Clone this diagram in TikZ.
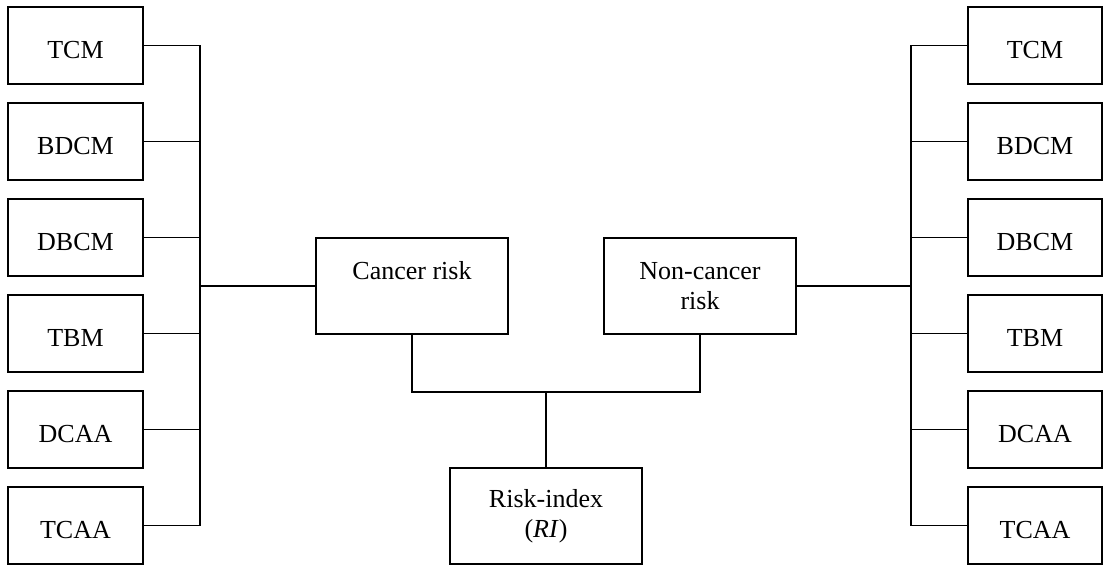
\documentclass[tikz,border=0pt]{standalone}
\usepackage{fontspec}
\setmainfont{Liberation Serif}
\begin{document}
\begin{tikzpicture}[x=1pt,y=-1pt,
  box/.style={draw, line width=1.2pt, minimum width=135pt, minimum height=77pt, inner sep=0pt, align=center, font=\fontsize{26}{30}\selectfont},
  smallbox/.style={box, text height=26pt, text depth=0pt},
  bigbox/.style={box, minimum width=192pt, minimum height=96pt},
  conn/.style={line width=1.2pt, line join=miter}]
\useasboundingbox (0,0) rectangle (1103,571);
% left column
\node[smallbox] (L1) at (75.5,45.5) {TCM};
\node[smallbox] (L2) at (75.5,141.5) {BDCM};
\node[smallbox] (L3) at (75.5,237.5) {DBCM};
\node[smallbox] (L4) at (75.5,333.5) {TBM};
\node[smallbox] (L5) at (75.5,429.5) {DCAA};
\node[smallbox] (L6) at (75.5,525.5) {TCAA};
% right column
\node[smallbox, minimum width=134pt] (R1) at (1035,45.5) {TCM};
\node[smallbox, minimum width=134pt] (R2) at (1035,141.5) {BDCM};
\node[smallbox, minimum width=134pt] (R3) at (1035,237.5) {DBCM};
\node[smallbox, minimum width=134pt] (R4) at (1035,333.5) {TBM};
\node[smallbox, minimum width=134pt] (R5) at (1035,429.5) {DCAA};
\node[smallbox, minimum width=134pt] (R6) at (1035,525.5) {TCAA};
% centre
\node[bigbox] (cancer) at (412,286) {Cancer risk\\[2pt]\mbox{}};
\node[bigbox] (noncancer) at (700,286) {Non-cancer\\risk};
\node[bigbox] (ri) at (546,516) {Risk-index\\(\textit{RI})};
% buses
\coordinate (lb) at (200,0);
\coordinate (rb) at (911,0);
\coordinate (j) at (546,392);
\draw[conn] (L1.east) -| (L6.east -| lb) -- (L6.east);
\draw[conn] (R1.west) -| (R6.west -| rb) -- (R6.west);
\foreach \i in {2,...,5}{
  \draw[conn] (L\i.east) -- (L\i.east -| lb);
  \draw[conn] (R\i.west) -- (R\i.west -| rb);
}
\draw[conn] (cancer.west) -- (cancer.west -| lb);
\draw[conn] (noncancer.east) -- (noncancer.east -| rb);
\draw[conn] (cancer.south) |- (j) -| (noncancer.south);
\draw[conn] (j) -- (ri.north);
\end{tikzpicture}
\end{document}
